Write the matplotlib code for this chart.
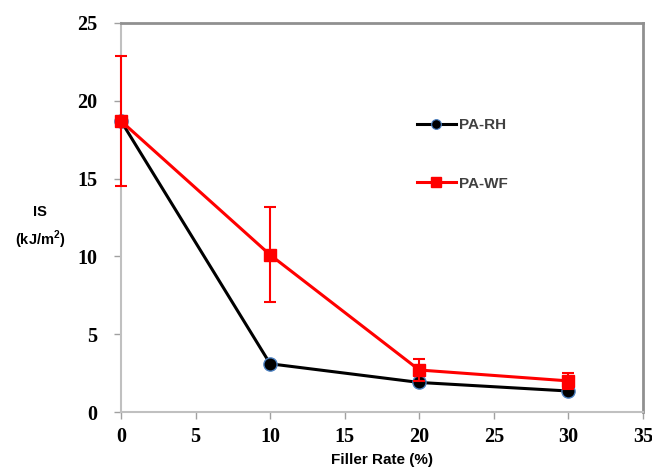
import matplotlib.pyplot as plt
from matplotlib.lines import Line2D

# data
filler = [0, 10, 20, 30]
pa_rh = [18.7, 3.1, 1.9, 1.35]
pa_wf = [18.7, 10.1, 2.7, 2.0]
pa_wf_err = [4.15, 3.05, 0.7, 0.5]

x_ticks = [0, 5, 10, 15, 20, 25, 30, 35]
y_ticks = [0, 5, 10, 15, 20, 25]

fig = plt.figure(figsize=(6.52, 4.69), dpi=100)
ax = fig.add_axes([0.1856, 0.1215, 0.8004, 0.8295])

ax.plot(filler, pa_rh, color="black", lw=2.2, marker="o", ms=9.5,
        markerfacecolor="black", markeredgecolor="#4a7fc0", markeredgewidth=1,
        zorder=3, clip_on=False)
eb = ax.errorbar(filler, pa_wf, yerr=pa_wf_err, color="red", lw=2.2, marker="s", ms=9,
                 markerfacecolor="red", markeredgecolor="red", ecolor="red", elinewidth=1.5,
                 capsize=4, capthick=1.5, zorder=4)
for art in eb.lines[0:1] + eb.lines[1] + eb.lines[2]:
    art.set_clip_on(False)

ax.set_xlim(0, 35)
ax.set_ylim(0, 25)
ax.set_xticks(x_ticks)
ax.set_yticks(y_ticks)
for lab in ax.get_xticklabels() + ax.get_yticklabels():
    lab.set_fontfamily("Liberation Serif")
    lab.set_fontweight("bold")
    lab.set_fontsize(14.5)
ax.tick_params(axis="both", colors="#a0a0a0", length=5, width=1, labelcolor="black")
ax.tick_params(axis="y", pad=12)
ax.tick_params(axis="x", pad=6)

for side in ["left", "bottom"]:
    ax.spines[side].set_color("#c0c0c0")
    ax.spines[side].set_linewidth(1.5)
for side in ["top", "right"]:
    ax.spines[side].set_color("#909090")
    ax.spines[side].set_linewidth(2)

ax.set_xlabel("Filler Rate (%)", fontfamily="Liberation Sans", fontweight="bold",
              fontsize=11, labelpad=4)
fig.text(40 / 652, 1 - 212 / 469, "IS", ha="center", va="center",
         fontfamily="Liberation Sans", fontweight="bold", fontsize=10.5)
fig.text(40 / 652, 1 - 240 / 469, "(kJ/m$^\\mathregular{2}$)", ha="center", va="center",
         fontfamily="Liberation Sans", fontweight="bold", fontsize=10.5)

handles = [
    Line2D([], [], color="black", lw=2.2, marker="o", ms=7, markerfacecolor="black",
           markeredgecolor="#4a7fc0", markeredgewidth=0.8),
    Line2D([], [], color="red", lw=2.2, marker="s", ms=7, markerfacecolor="red",
           markeredgecolor="red"),
]
leg = ax.legend(handles, ["PA-RH", "PA-WF"], loc="upper left",
                bbox_to_anchor=(0.54, 0.79), frameon=False, labelspacing=2.9,
                handlelength=2.6, handletextpad=0.2,
                prop={"family": "Liberation Sans", "weight": "bold", "size": 11})
for t in leg.get_texts():
    t.set_color("#404040")

fig.savefig("out.png", dpi=100)
